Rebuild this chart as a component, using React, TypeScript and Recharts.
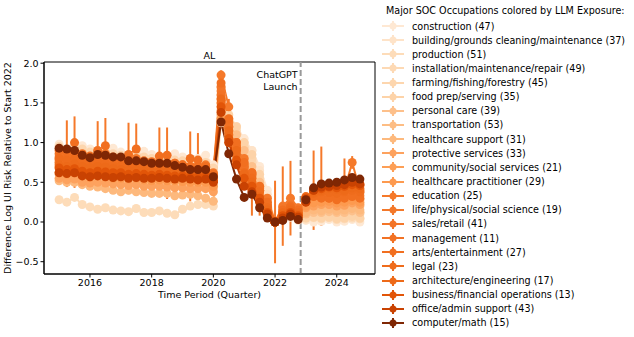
import React from 'react';
import {
  LineChart, Line, XAxis, YAxis, ErrorBar, ReferenceLine, ReferenceArea, Label
} from 'recharts';

const years = [2015, 2016, 2017, 2018, 2019, 2020, 2021, 2022, 2023, 2024];
const quarters = years.flatMap(y => [y, y + 0.25, y + 0.5, y + 0.75]);

const occupations = [
  'construction (47)',
  'building/grounds cleaning/maintenance (37)',
  'production (51)',
  'installation/maintenance/repair (49)',
  'farming/fishing/forestry (45)',
  'food prep/serving (35)',
  'personal care (39)',
  'transportation (53)',
  'healthcare support (31)',
  'protective services (33)',
  'community/social services (21)',
  'healthcare practitioner (29)',
  'education (25)',
  'life/physical/social science (19)',
  'sales/retail (41)',
  'management (11)',
  'arts/entertainment (27)',
  'legal (23)',
  'architecture/engineering (17)',
  'business/financial operations (13)',
  'office/admin support (43)',
  'computer/math (15)',
];

const colors = [
  '#fee8d3', '#fee3c8', '#fddcb9', '#fdd9b4', '#fdd6ae', '#fdd3a8',
  '#fdc08b', '#fdbd84', '#fdb97d', '#fda25e', '#fd9f56', '#fd9a4f',
  '#f5792a', '#f3782a', '#f37528', '#f27224', '#f16f20', '#ef6c1c',
  '#ed6a19', '#e25508', '#c94202', '#7f2704',
];

const construction = [0.98, 0.9, 0.92, 0.96, 0.92, 0.86, 0.88, 0.93, 0.88, 0.82, 0.84, 0.89, 0.85, 0.8, 0.82, 0.86, 0.82, 0.78, 0.8, 0.84, 0.72, 1.35, 1.25, 1.2, 1.05, 0.9, 0.7, 0.4, 0.0, 0.05, 0.06, 0.02, 0.02, 0.0, 0.01, 0.03, 0.0, 0.01, 0.03, 0.0];
const building = [0.85, 0.82, 0.86, 0.8, 0.78, 0.8, 0.79, 0.77, 0.76, 0.75, 0.76, 0.74, 0.73, 0.73, 0.72, 0.71, 0.7, 0.7, 0.69, 0.69, 0.62, 1.5, 1.3, 1.2, 1.0, 0.9, 0.65, 0.35, 0.0, 0.08, 0.1, 0.05, 0.03, 0.05, 0.04, 0.05, 0.03, 0.04, 0.06, 0.04];
const production = [0.28, 0.25, 0.31, 0.22, 0.19, 0.16, 0.18, 0.15, 0.14, 0.13, 0.17, 0.12, 0.12, 0.14, 0.11, 0.09, 0.16, 0.2, 0.22, 0.22, 0.2, 1.25, 1.05, 0.95, 0.8, 0.65, 0.45, 0.22, 0.0, 0.05, 0.08, 0.03, 0.05, 0.06, 0.04, 0.06, 0.03, 0.04, 0.05, 0.04];
const installation = [0.75, 0.73, 0.76, 0.72, 0.7, 0.72, 0.71, 0.69, 0.68, 0.67, 0.68, 0.66, 0.65, 0.65, 0.64, 0.63, 0.63, 0.62, 0.62, 0.61, 0.55, 1.5, 1.25, 1.15, 0.92, 0.75, 0.5, 0.25, 0.0, 0.1, 0.12, 0.06, 0.1, 0.12, 0.13, 0.13, 0.12, 0.12, 0.14, 0.12];
const farming = [0.95, 0.9, 0.96, 0.92, 0.88, 0.9, 0.88, 0.86, 0.84, 0.83, 0.84, 0.82, 0.8, 0.8, 0.8, 0.78, 0.77, 0.76, 0.76, 0.75, 0.68, 1.4, 1.2, 1.1, 0.95, 0.8, 0.55, 0.28, 0.0, 0.08, 0.1, 0.05, 0.08, 0.1, 0.1, 0.11, 0.1, 0.1, 0.12, 0.1];
const foodPrep = [0.62, 0.6, 0.63, 0.6, 0.58, 0.6, 0.59, 0.57, 0.56, 0.56, 0.56, 0.54, 0.54, 0.54, 0.53, 0.52, 0.52, 0.51, 0.51, 0.5, 0.46, 1.6, 1.35, 1.2, 1.0, 0.85, 0.6, 0.3, 0.0, 0.1, 0.12, 0.08, 0.05, 0.06, 0.05, 0.06, 0.04, 0.05, 0.07, 0.05];
const personalCare = [0.6, 0.58, 0.6, 0.56, 0.55, 0.56, 0.55, 0.53, 0.53, 0.52, 0.52, 0.51, 0.5, 0.5, 0.5, 0.49, 0.48, 0.48, 0.47, 0.47, 0.42, 1.7, 1.3, 1.1, 0.9, 0.7, 0.5, 0.25, 0.0, 0.12, 0.15, 0.1, 0.1, 0.12, 0.12, 0.13, 0.12, 0.12, 0.14, 0.12];
const transportation = [0.68, 0.66, 0.68, 0.64, 0.62, 0.64, 0.62, 0.61, 0.6, 0.6, 0.6, 0.58, 0.58, 0.58, 0.57, 0.56, 0.56, 0.55, 0.55, 0.55, 0.5, 1.45, 1.15, 0.95, 0.72, 0.6, 0.45, 0.2, 0.0, 0.1, 0.14, 0.08, 0.15, 0.18, 0.2, 0.2, 0.18, 0.2, 0.22, 0.2];
const healthSupport = [0.52, 0.5, 0.5, 0.47, 0.45, 0.44, 0.42, 0.4, 0.38, 0.4, 0.38, 0.37, 0.36, 0.36, 0.36, 0.33, 0.34, 0.35, 0.33, 0.3, 0.26, 1.35, 1.1, 0.85, 0.6, 0.5, 0.35, 0.15, 0.0, 0.06, 0.1, 0.05, 0.12, 0.15, 0.14, 0.16, 0.14, 0.15, 0.17, 0.15];
const protective = [0.55, 0.53, 0.54, 0.5, 0.49, 0.5, 0.49, 0.48, 0.47, 0.46, 0.47, 0.45, 0.45, 0.45, 0.44, 0.43, 0.43, 0.42, 0.42, 0.42, 0.38, 1.4, 1.05, 0.82, 0.58, 0.48, 0.35, 0.15, 0.0, 0.08, 0.12, 0.08, 0.18, 0.2, 0.22, 0.22, 0.2, 0.21, 0.24, 0.22];
const community = [0.7, 0.68, 0.7, 0.67, 0.66, 0.67, 0.66, 0.65, 0.64, 0.63, 0.64, 0.62, 0.62, 0.62, 0.61, 0.6, 0.6, 0.59, 0.59, 0.58, 0.52, 1.55, 1.15, 0.9, 0.65, 0.55, 0.4, 0.18, 0.0, 0.12, 0.15, 0.1, 0.22, 0.27, 0.28, 0.28, 0.26, 0.27, 0.3, 0.28];
const healthPract = [0.62, 0.6, 0.62, 0.58, 0.56, 0.58, 0.57, 0.55, 0.55, 0.54, 0.55, 0.53, 0.52, 0.53, 0.52, 0.52, 0.51, 0.5, 0.5, 0.5, 0.45, 1.3, 1.0, 0.75, 0.5, 0.42, 0.3, 0.12, 0.0, 0.1, 0.15, 0.1, 0.2, 0.24, 0.25, 0.26, 0.24, 0.25, 0.27, 0.25];
const education = [0.78, 0.86, 0.88, 0.8, 0.76, 0.85, 0.86, 0.78, 0.75, 0.8, 0.8, 0.76, 0.73, 0.76, 0.74, 0.74, 0.72, 0.7, 0.7, 0.72, 0.62, 1.85, 1.45, 1.0, 0.8, 0.42, 0.4, 0.3, 0.0, 0.2, 0.3, 0.18, 0.25, 0.4, 0.45, 0.3, 0.3, 0.4, 0.75, 0.4];
const educationErr = [0.04, 0.42, 0.45, 0.04, 0.04, 0.42, 0.45, 0.04, 0.04, 0.45, 0.44, 0.04, 0.04, 0.43, 0.45, 0.04, 0.04, 0.44, 0.42, 0.04, 0.04, 0.06, 0.1, 0.05, 0.05, 0.34, 0.32, 0.05, 0.52, 0.5, 0.47, 0.05, 0.05, 0.5, 0.5, 0.05, 0.05, 0.4, 0.08, 0.05];
const lifeScience = [0.82, 0.8, 0.83, 0.78, 0.76, 0.79, 0.77, 0.75, 0.74, 0.72, 0.73, 0.71, 0.7, 0.71, 0.69, 0.68, 0.67, 0.66, 0.66, 0.65, 0.58, 1.65, 1.2, 0.95, 0.72, 0.62, 0.43, 0.22, 0.0, 0.18, 0.22, 0.15, 0.3, 0.33, 0.35, 0.34, 0.32, 0.33, 0.36, 0.33];
const sales = [0.75, 0.74, 0.76, 0.72, 0.7, 0.72, 0.7, 0.69, 0.68, 0.67, 0.67, 0.66, 0.65, 0.66, 0.65, 0.64, 0.63, 0.63, 0.62, 0.62, 0.55, 1.7, 1.25, 0.95, 0.7, 0.6, 0.42, 0.2, 0.0, 0.12, 0.17, 0.12, 0.28, 0.35, 0.37, 0.38, 0.36, 0.37, 0.39, 0.37];
const management = [0.86, 0.85, 0.86, 0.82, 0.8, 0.82, 0.81, 0.79, 0.78, 0.76, 0.77, 0.75, 0.74, 0.74, 0.73, 0.72, 0.71, 0.7, 0.7, 0.69, 0.6, 1.6, 1.2, 0.92, 0.68, 0.58, 0.4, 0.2, 0.0, 0.1, 0.15, 0.1, 0.3, 0.4, 0.43, 0.44, 0.45, 0.46, 0.48, 0.47];
const arts = [0.9, 0.88, 1.0, 0.86, 0.83, 0.9, 0.96, 0.82, 0.8, 0.85, 0.92, 0.77, 0.76, 0.83, 0.84, 0.74, 0.72, 0.8, 0.78, 0.7, 0.6, 1.75, 1.3, 1.0, 0.75, 0.62, 0.45, 0.25, 0.0, 0.15, 0.2, 0.15, 0.3, 0.32, 0.3, 0.3, 0.28, 0.3, 0.32, 0.3];
const legal = [0.8, 0.78, 0.8, 0.76, 0.74, 0.76, 0.74, 0.72, 0.71, 0.7, 0.71, 0.69, 0.68, 0.68, 0.67, 0.66, 0.65, 0.64, 0.64, 0.63, 0.56, 1.5, 1.1, 0.85, 0.62, 0.55, 0.38, 0.18, 0.0, 0.12, 0.18, 0.12, 0.32, 0.36, 0.38, 0.37, 0.36, 0.38, 0.4, 0.38];
const architecture = [0.72, 0.7, 0.73, 0.7, 0.68, 0.7, 0.69, 0.67, 0.66, 0.65, 0.66, 0.64, 0.63, 0.64, 0.63, 0.62, 0.62, 0.61, 0.6, 0.61, 0.55, 1.55, 1.15, 0.9, 0.6, 0.5, 0.32, 0.15, 0.0, 0.1, 0.15, 0.1, 0.3, 0.38, 0.4, 0.42, 0.41, 0.4, 0.43, 0.42];
const business = [0.68, 0.66, 0.67, 0.64, 0.62, 0.64, 0.63, 0.62, 0.62, 0.6, 0.61, 0.6, 0.59, 0.6, 0.59, 0.58, 0.58, 0.57, 0.57, 0.58, 0.52, 1.45, 1.05, 0.78, 0.55, 0.45, 0.3, 0.12, 0.0, 0.08, 0.12, 0.08, 0.3, 0.4, 0.42, 0.44, 0.43, 0.45, 0.47, 0.46];
const officeAdmin = [0.62, 0.61, 0.62, 0.58, 0.57, 0.58, 0.57, 0.56, 0.57, 0.55, 0.56, 0.55, 0.55, 0.56, 0.55, 0.54, 0.55, 0.54, 0.53, 0.54, 0.5, 1.38, 1.0, 0.72, 0.45, 0.38, 0.25, 0.1, 0.0, 0.05, 0.1, 0.06, 0.25, 0.4, 0.44, 0.45, 0.46, 0.47, 0.5, 0.48];
const computerMath = [0.93, 0.92, 0.9, 0.84, 0.81, 0.85, 0.84, 0.82, 0.82, 0.77, 0.77, 0.76, 0.74, 0.74, 0.74, 0.71, 0.69, 0.66, 0.66, 0.66, 0.57, 1.26, 0.86, 0.54, 0.31, 0.35, 0.18, 0.05, 0.0, 0.02, 0.07, 0.03, 0.28, 0.43, 0.48, 0.49, 0.5, 0.53, 0.56, 0.54];

const series = [
  construction, building, production, installation, farming, foodPrep,
  personalCare, transportation, healthSupport, protective, community, healthPract,
  education, lifeScience, sales, management, arts, legal,
  architecture, business, officeAdmin, computerMath,
];

const yTicks = [-0.5, 0, 0.5, 1, 1.5, 2];
const xTicks = [2016, 2018, 2020, 2022, 2024];
const xDomain = [2014.51, 2025.24];
const yDomain = [-0.655, 2.015];
const chatgptLaunch = 2022.83;

const data = quarters.map((t, i) => {
  const row: any = { t, eduErr: educationErr[i] };
  series.forEach((s, k) => { row['s' + k] = s[i]; });
  return row;
});

const FONT = 'DejaVu Sans, sans-serif';

const fmtY = (v: number) => (v < 0 ? '\u2212' + Math.abs(v).toFixed(1) : v.toFixed(1));

const LaunchLabel = (props: any) => {
  const { viewBox } = props;
  const x = viewBox.x - 3;
  const y = viewBox.y;
  return (
    <text x={x} y={y} textAnchor="end" fontFamily={FONT} fontSize={9.5} fill="#000">
      <tspan x={x} y={y + 16}>ChatGPT</tspan>
      <tspan x={x} y={y + 28}>Launch</tspan>
    </text>
  );
};

const LegendMarker = ({ color }: { color: string }) => (
  <svg width={24} height={12} style={{ display: 'block' }}>
    <line x1={1} y1={6} x2={23} y2={6} stroke={color} strokeWidth={2} />
    <line x1={12} y1={1} x2={12} y2={11} stroke={color} strokeWidth={2} />
    <circle cx={12} cy={6} r={3.5} fill={color} />
  </svg>
);

export default function App() {
  return (
    <div style={{ position: 'absolute', left: 0, top: 0, width: 634, height: 337, background: '#fff', fontFamily: FONT }}>
      <div style={{ position: 'absolute', left: 44, width: 331, top: 50, textAlign: 'center', fontSize: 9.5, color: '#000' }}>AL</div>
      <LineChart
        width={634}
        height={337}
        data={data}
        margin={{ top: 62, right: 259, left: 10, bottom: 33 }}
      >
        <XAxis
          dataKey="t"
          type="number"
          domain={xDomain}
          ticks={xTicks}
          allowDataOverflow
          stroke="#000"
          tick={{ fill: '#000', fontSize: 9.5, fontFamily: FONT }}
          tickLine={{ stroke: '#000' }}
          tickSize={3.5}
          height={30}
        >
          <Label value="Time Period (Quarter)" position="insideBottom" offset={6} fill="#000" fontSize={9.5} fontFamily={FONT} />
        </XAxis>
        <YAxis
          type="number"
          domain={yDomain}
          ticks={yTicks}
          allowDataOverflow
          tickFormatter={fmtY}
          stroke="#000"
          tick={{ fill: '#000', fontSize: 9.5, fontFamily: FONT }}
          tickLine={{ stroke: '#000' }}
          tickSize={3.5}
          width={34}
        >
          <Label value="Difference Log UI Risk Relative to Start 2022" angle={-90} position="insideLeft" offset={-2} fill="#000" fontSize={9.5} fontFamily={FONT} style={{ textAnchor: 'middle' }} />
        </YAxis>

        <ReferenceArea
          x1={xDomain[0]}
          x2={xDomain[1]}
          y1={yDomain[0]}
          y2={yDomain[1]}
          fill="none"
          stroke="#000"
          strokeWidth={1}
          ifOverflow="visible"
        />

        {series.map((_, k) => (
          <Line
            key={k}
            dataKey={'s' + k}
            stroke={colors[k]}
            strokeWidth={2}
            dot={{ r: 4.5, fill: colors[k], stroke: 'none' }}
            activeDot={false}
            isAnimationActive={false}
          >
            {k === 12 && (
              <ErrorBar dataKey="eduErr" width={0} stroke={colors[k]} strokeWidth={2} direction="y" />
            )}
          </Line>
        ))}

        <ReferenceLine
          x={chatgptLaunch}
          stroke="#999"
          strokeWidth={2}
          strokeDasharray="6 3"
          label={<LaunchLabel />}
        />
      </LineChart>

      <div style={{ position: 'absolute', left: 386, top: 5, fontSize: 9.6, color: '#000', whiteSpace: 'nowrap' }}>
        Major SOC Occupations colored by LLM Exposure:
      </div>
      {occupations.map((name, k) => (
        <div
          key={name}
          style={{ position: 'absolute', left: 381, top: 26 + k * 14.14 - 7, height: 14, display: 'flex', alignItems: 'center', whiteSpace: 'nowrap', fontSize: 9.6, color: '#000' }}
        >
          <LegendMarker color={colors[k]} />
          <span style={{ marginLeft: 7 }}>{name}</span>
        </div>
      ))}
    </div>
  );
}
